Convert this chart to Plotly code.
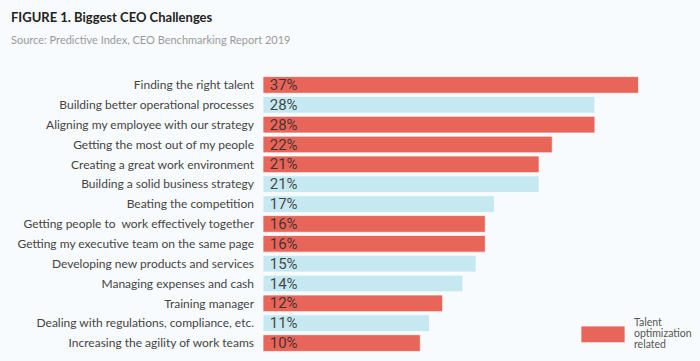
import plotly.graph_objects as go

categories = [
    "Finding the right talent",
    "Building better operational processes",
    "Aligning my employee with our strategy",
    "Getting the most out of my people",
    "Creating a great work environment",
    "Building a solid business strategy",
    "Beating the competition",
    "Getting people to  work effectively together",
    "Getting my executive team on the same page",
    "Developing new products and services",
    "Managing expenses and cash",
    "Training manager",
    "Dealing with regulations, compliance, etc.",
    "Increasing the agility of work teams",
]
percent_labels = [37, 28, 28, 22, 21, 21, 17, 16, 16, 15, 14, 12, 11, 10]
# bar lengths as drawn in the picture (same scale as the 37% bar)
bar_lengths = [37, 32.7, 32.7, 28.5, 27.2, 27.2, 22.8, 21.9, 21.9, 21.0, 19.7, 17.7, 16.4, 15.5]
talent_related = [True, False, True, True, True, False, False, True, True, False, False, True, False, True]
legend_lines = ["Talent", "optimization", "related"]

RED = "#E8655A"
BLUE = "#C5E8F1"
BG = "#F8FBFD"

colors = [RED if t else BLUE for t in talent_related]

# the page body adds an 8px offset; work in page coordinates, convert with OFF
OFF = 8
FW, FH = 700 - OFF, 361 - OFF
L, T = 263 - OFF, 75 - OFF
PLOT_BOTTOM = 353 - OFF
B = FH - PLOT_BOTTOM
W, H = FW - L, PLOT_BOTTOM - T


def px(xpage):
    return (xpage - OFF - L) / W


def py(ypage):
    return (PLOT_BOTTOM - (ypage - OFF)) / H


fig = go.Figure(go.Bar(
    y=categories,
    x=bar_lengths,
    orientation="h",
    marker=dict(color=colors, line=dict(color="rgba(255,255,255,0.7)", width=1)),
    text=[f"\u00a0{v}%" for v in percent_labels],
    textposition="inside",
    insidetextanchor="start",
    constraintext="none",
    textfont=dict(family="Roboto", size=15, color="rgba(40,40,40,0.85)"),
    cliponaxis=False,
    hoverinfo="skip",
))

fig.update_layout(
    width=FW, height=FH,
    paper_bgcolor=BG, plot_bgcolor=BG,
    margin=dict(l=L, r=0, t=T, b=B, autoexpand=False),
    showlegend=False,
    bargap=0.16,
    xaxis=dict(range=[0, W / 10.15], visible=False, fixedrange=True, automargin=False),
    yaxis=dict(
        autorange="reversed", automargin=False,
        showgrid=False, zeroline=False, showline=False, ticks="",
        ticklabelstandoff=8,
        tickfont=dict(family="Lato", size=12, color="#444444"),
    ),
    font=dict(family="Lato"),
)

fig.add_annotation(
    text="<b>FIGURE 1. Biggest CEO Challenges</b>",
    xref="paper", yref="paper", x=px(10), y=py(17),
    xanchor="left", yanchor="middle", showarrow=False, borderpad=0,
    font=dict(family="Lato", size=13, color="#222222"),
)
fig.add_annotation(
    text="Source: Predictive Index, CEO Benchmarking Report 2019",
    xref="paper", yref="paper", x=px(10), y=py(40),
    xanchor="left", yanchor="middle", showarrow=False, borderpad=0,
    font=dict(family="Lato", size=11, color="#9a9a9a"),
)

# legend
fig.add_shape(
    type="rect", xref="paper", yref="paper",
    x0=px(581), x1=px(625), y0=py(342.7), y1=py(326),
    fillcolor=RED, line=dict(color="rgba(255,255,255,0.7)", width=1),
)
for i, line in enumerate(legend_lines):
    fig.add_annotation(
        text=line,
        xref="paper", yref="paper", x=px(633), y=py(322 + 11 * i),
        xanchor="left", yanchor="middle", align="left", showarrow=False, borderpad=0,
        font=dict(family="Lato", size=10.5, color="#555555"),
    )

fig.write_html("out.html", post_script=f"document.body.style.background='{BG}';")
